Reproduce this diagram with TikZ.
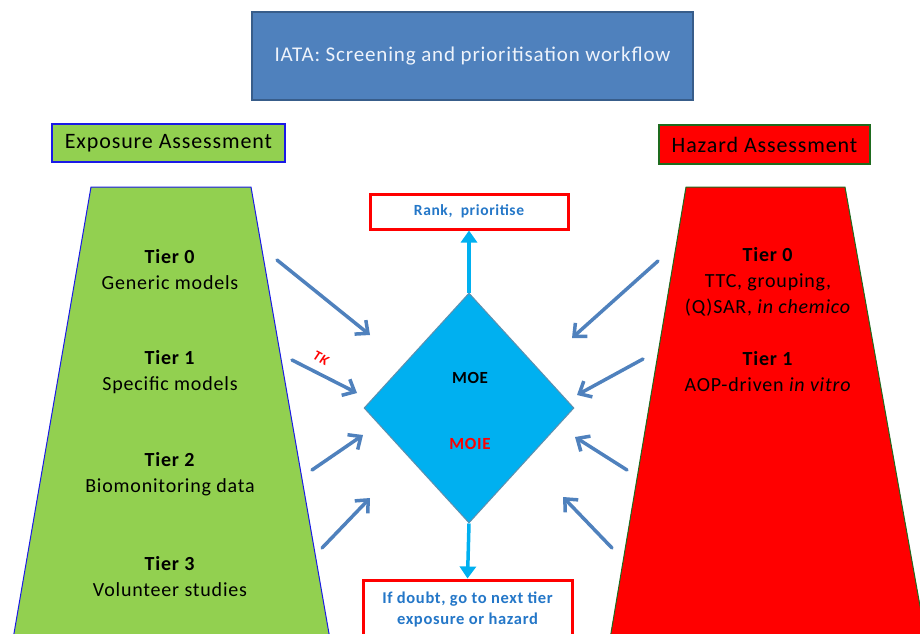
\documentclass[tikz,border=0pt]{standalone}
\usepackage{fontspec}
\setmainfont{Carlito}[LetterSpace=4]
\usetikzlibrary{arrows.meta,shapes.geometric}
\definecolor{titleblue}{HTML}{4F81BD}
\definecolor{titleedge}{HTML}{385D8A}
\definecolor{expgreen}{HTML}{92D050}
\definecolor{expedge}{HTML}{1A1AE6}
\definecolor{hazedge}{HTML}{1E6B1E}
\definecolor{diafill}{HTML}{00B0F0}
\definecolor{diaedge}{HTML}{5E8FAE}
\definecolor{txtblue}{HTML}{2477C8}
\definecolor{arrblue}{HTML}{4F81BD}
\definecolor{titletext}{HTML}{EEF3FB}
\tikzset{
  fs/.style 2 args={font=\fontsize{#1}{#2}\selectfont},
  titlebox/.style={draw=titleedge, line width=1.5pt, fill=titleblue, text=titletext,
    minimum width=441pt, minimum height=88pt, inner sep=0pt, fs={21}{26}},
  headbox/.style={line width=2pt, minimum height=38pt, inner sep=0pt, text=black, fs={22}{26}},
  resbox/.style={draw=red, line width=3pt, fill=white, text=txtblue, inner sep=0pt,
    align=center},
  tiertext/.style={align=center, text=black, fs={20}{26}},
  sidearrow/.style={draw=arrblue, line width=3.5pt, line cap=round,
    -{Straight Barb[length=10pt,width=18pt,line width=3.5pt]}},
  vertarrow/.style={draw=diafill, line width=3.5pt,
    -{Triangle[length=12pt,width=16pt]}},
  diatext/.style={font=\fontsize{17}{18}\selectfont\bfseries},
}
\begin{document}
\begin{tikzpicture}[x=1pt,y=-1pt]
\useasboundingbox (0,0) rectangle (920,633);
\clip (0,0) rectangle (920,633);

% trapezoids
\path[fill=expgreen, draw=expedge, line width=1pt]
  (91,187) -- (251,187) -- (331,645) -- (12,645) -- cycle;
\path[fill=red, draw=hazedge, line width=1pt]
  (686,187) -- (845,187) -- (927,645) -- (609,645) -- cycle;

% title and headings
\node[titlebox] (title) at (472.5,56) {IATA: Screening and prioritisation workflow};
\node[headbox, draw=expedge, fill=expgreen, minimum width=233pt] (expo) at (168.5,143) {Exposure Assessment};
\node[headbox, draw=hazedge, fill=red, minimum width=211pt, minimum height=39pt] (haz) at (764.5,144.5) {Hazard Assessment};

% tier texts
\node[tiertext] (e0) at (170,270) {\textbf{Tier 0}\\Generic models};
\node[tiertext] (e1) at (170,372) {\textbf{Tier 1}\\Specific models};
\node[tiertext] (e2) at (170,474) {\textbf{Tier 2}\\Biomonitoring data};
\node[tiertext] (e3) at (170,577) {\textbf{Tier 3}\\Volunteer studies};
\node[tiertext] (h0) at (768,282) {\textbf{Tier 0}\\TTC, grouping,\\(Q)SAR, \textit{in chemico}};
\node[tiertext] (h1) at (768,371.5) {\textbf{Tier 1}\\AOP-driven \textit{in vitro}};

% diamond
\node[diamond, draw=diaedge, line width=1pt, fill=diafill, aspect=0.913,
  minimum width=210pt, minimum height=230pt, inner sep=0pt] (dia) at (469,408) {};
\node[diatext, text=black] (moe) at (470,378) {MOE};
\node[diatext, text=red] (moie) at (470,444) {MOIE};

% result boxes
\node[resbox, font=\fontsize{15.5}{20}\selectfont\bfseries, minimum width=198pt, minimum height=35pt] (rank) at (469,211.5) {Rank,\ \ prioritise};
\node[resbox, font=\fontsize{16.5}{21}\selectfont\bfseries, minimum width=209pt, minimum height=58pt] (doubt) at (467.5,609) {If doubt, go to next tier\\exposure or hazard};

% vertical arrows
\draw[vertarrow] (dia.north) -- (rank.south);
\draw[vertarrow] (dia.south) -- (doubt.north);

% side arrows
\coordinate (l1s) at (277,260); \coordinate (l1e) at (370,335);
\coordinate (l2s) at (292,360); \coordinate (l2e) at (357,393);
\coordinate (l3s) at (312,470); \coordinate (l3e) at (363,435);
\coordinate (l4s) at (322,548); \coordinate (l4e) at (370,498);
\coordinate (r1s) at (658,261); \coordinate (r1e) at (572,338);
\coordinate (r2s) at (643,359); \coordinate (r2e) at (577,395);
\coordinate (r3s) at (627,470); \coordinate (r3e) at (575,437);
\coordinate (r4s) at (612,548); \coordinate (r4e) at (563,497);
\foreach \a in {l1,l2,l3,l4,r1,r2,r3,r4}{
  \draw[sidearrow] (\a s) -- (\a e);
}
\node[text=red, rotate=-27, inner sep=0pt, font=\fontsize{14}{14}\selectfont\bfseries\itshape] (tk) at (321,358) {TK};
\end{tikzpicture}
\end{document}
